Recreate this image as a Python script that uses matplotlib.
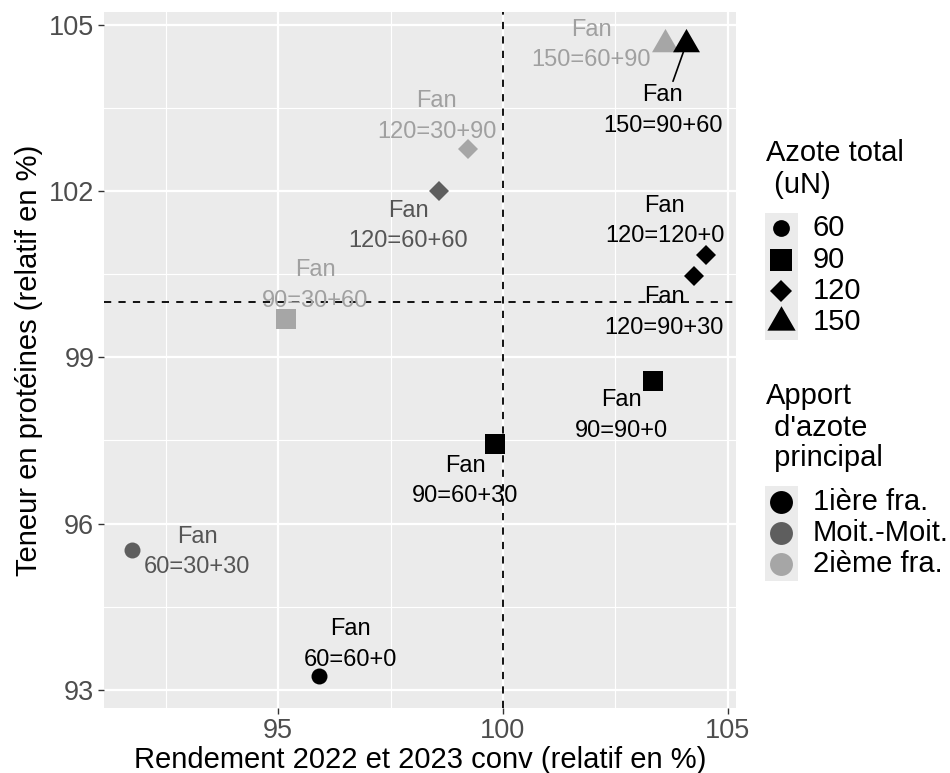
import matplotlib
matplotlib.use("Agg")
import matplotlib.pyplot as plt
from matplotlib.patches import Rectangle

plt.rcParams['font.family'] = ['Liberation Sans', 'DejaVu Sans']

# ---- data ----
rendement = [95.91, 91.76, 99.82, 103.33, 95.18, 98.58, 99.22, 104.51, 104.24, 103.60, 104.07]
proteines = [93.25, 95.53, 97.44, 98.58, 99.70, 102.00, 102.76, 100.84, 100.46, 104.65, 104.65]
azote_total = [60, 60, 90, 90, 90, 120, 120, 120, 120, 150, 150]
apport = ['1ière fra.', 'Moit.-Moit.', '1ière fra.', '1ière fra.', '2ième fra.', 'Moit.-Moit.',
          '2ième fra.', '1ière fra.', '1ière fra.', '2ième fra.', '1ière fra.']
labels = ['Fan\n60=60+0', 'Fan\n60=30+30', 'Fan\n90=60+30', 'Fan\n90=90+0', 'Fan\n90=30+60',
          'Fan\n120=60+60', 'Fan\n120=30+90', 'Fan\n120=120+0', 'Fan\n120=90+30',
          'Fan\n150=60+90', 'Fan\n150=90+60']
label_x = [96.60, 93.20, 99.16, 102.64, 95.82, 97.89, 98.53, 103.60, 103.58, 101.96, 103.55]
label_y = [93.82, 95.49, 96.77, 97.95, 100.30, 101.37, 103.35, 101.46, 99.81, 104.64, 103.46]
x_ticks = [95, 100, 105]
y_ticks = [93, 96, 99, 102, 105]
azote_levels = [60, 90, 120, 150]
apport_levels = ['1ière fra.', 'Moit.-Moit.', '2ième fra.']

# ---- styles ----
tri = [(-1, -0.577), (1, -0.577), (0, 1.155)]
shape_map = {60: ('o', 11.5), 90: ('s', 15.0), 120: ('D', 10.4), 150: (tri, 22.4)}
color_map = {'1ière fra.': '#000000', 'Moit.-Moit.': '#5e5e5e', '2ième fra.': '#a6a6a6'}
text_color_map = {'1ière fra.': '#000000', 'Moit.-Moit.': '#555555', '2ième fra.': '#a0a0a0'}

W, H = 950, 773
fig = plt.figure(figsize=(W / 100, H / 100), dpi=100)
ax = fig.add_axes([104 / W, 1 - 708 / H, (736 - 104) / W, (708 - 12) / H])
ax.set_facecolor('#ebebeb')
ax.set_xlim(91.13, 105.18)
ax.set_ylim(92.67, 105.235)

ax.set_xticks(x_ticks)
ax.set_yticks(y_ticks)
ax.set_xticks([92.5, 97.5, 102.5], minor=True)
ax.set_yticks([94.5, 97.5, 100.5, 103.5], minor=True)
ax.grid(which='major', color='white', linewidth=1.6)
ax.grid(which='minor', color='white', linewidth=0.8)
ax.set_axisbelow(True)
for s in ax.spines.values():
    s.set_visible(False)
ax.tick_params(which='major', length=4, width=1, color='#333333', labelsize=19.5,
               labelcolor='#4d4d4d', pad=3)
ax.tick_params(which='minor', length=0)

ax.axvline(100, color='black', linestyle=(0, (4, 4)), linewidth=1.3, zorder=1)
ax.axhline(100, color='black', linestyle=(0, (4, 4)), linewidth=1.3, zorder=1)

for x, y, a, p in zip(rendement, proteines, azote_total, apport):
    m, ms = shape_map[a]
    ax.plot([x], [y], linestyle='none', marker=m, markersize=ms, color=color_map[p],
            markeredgewidth=0, zorder=3)

for i, (lx, ly, lab, p) in enumerate(zip(label_x, label_y, labels, apport)):
    if i == 10:
        ax.annotate(lab, xy=(rendement[i], proteines[i]), xytext=(lx, ly),
                    ha='center', va='center', fontsize=17, linespacing=1.5,
                    color=text_color_map[p], zorder=4,
                    arrowprops=dict(arrowstyle='-', color='black', lw=1.2,
                                    shrinkA=0, shrinkB=5))
    else:
        ax.text(lx, ly, lab, ha='center', va='center', fontsize=17, linespacing=1.5,
                color=text_color_map[p], zorder=4)

ax.set_xlabel('Rendement 2022 et 2023 conv (relatif en %)', fontsize=21, color='black', labelpad=2)
ax.set_ylabel('Teneur en protéines (relatif en %)', fontsize=21, color='black', labelpad=4)

# ---- legends (figure pixel coordinates) ----
lg = fig.add_axes([0, 0, 1, 1])
lg.set_xlim(0, W)
lg.set_ylim(H, 0)
lg.axis('off')

fs_leg = 21
lg.text(766, 153, 'Azote total', fontsize=fs_leg, va='center', ha='left')
lg.text(766, 185, ' (uN)', fontsize=fs_leg, va='center', ha='left')
lg.add_patch(Rectangle((765, 213), 33, 127, facecolor='#ebebeb', edgecolor='none'))
shape_y = [228, 260, 291, 322]
for lev, yy in zip(azote_levels, shape_y):
    m, ms = shape_map[lev]
    lg.plot([781], [yy], marker=m, markersize=ms * 1.05, color='black', linestyle='none',
            markeredgewidth=0)
    lg.text(813, yy, str(lev), fontsize=fs_leg, va='center', ha='left')

lg.text(766, 396, 'Apport', fontsize=fs_leg, va='center', ha='left')
lg.text(766, 428, " d'azote", fontsize=fs_leg, va='center', ha='left')
lg.text(766, 458, ' principal', fontsize=fs_leg, va='center', ha='left')
lg.add_patch(Rectangle((765, 486), 33, 95, facecolor='#ebebeb', edgecolor='none'))
col_y = [502, 533, 564]
for lev, yy in zip(apport_levels, col_y):
    lg.plot([781], [yy], marker='o', markersize=16.5, color=color_map[lev], linestyle='none',
            markeredgewidth=0)
    lg.text(813, yy, lev, fontsize=fs_leg, va='center', ha='left')

fig.savefig('out.png', dpi=100)
